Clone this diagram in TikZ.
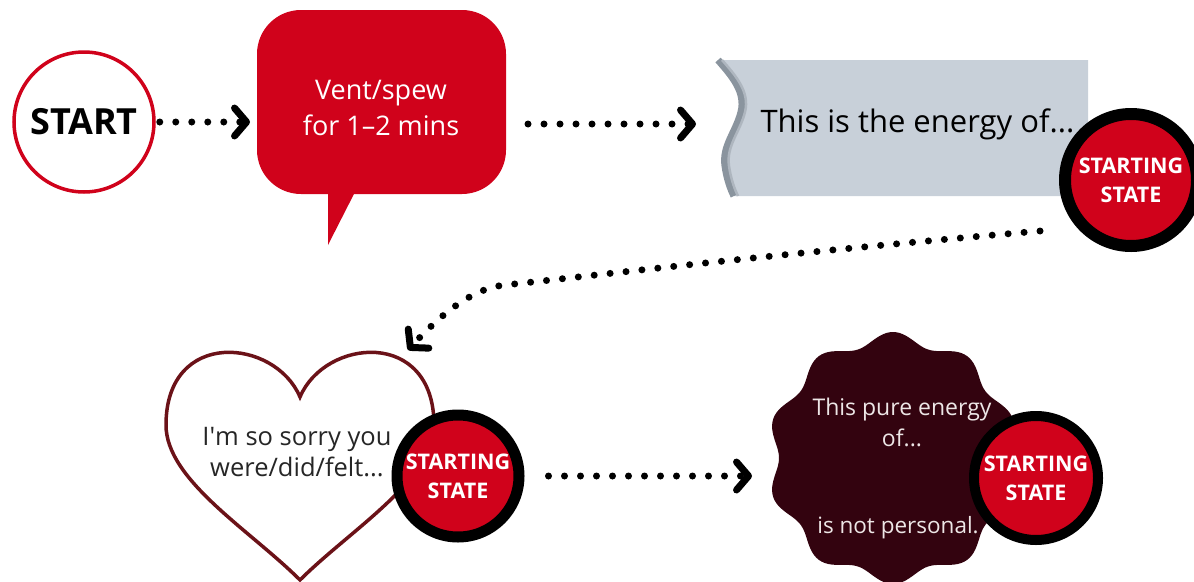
\documentclass[tikz,border=0pt]{standalone}
\usepackage{fontspec}
\setmainfont{Open Sans}
\usepackage{xcolor}
\usetikzlibrary{positioning,arrows.meta,calc}
\definecolor{bred}{HTML}{D0021B}
\definecolor{heartred}{HTML}{6B1218}
\definecolor{blobred}{HTML}{33030F}
\definecolor{bannergray}{HTML}{C8D0D9}
\definecolor{edgegray}{HTML}{8A949E}
\definecolor{edgelight}{HTML}{AEB6BF}
\definecolor{paletext}{HTML}{EDE6E6}

\begin{document}
\begin{tikzpicture}[x=1pt, y=-1pt,
  dotflow/.style={line width=7pt, line cap=round, dash pattern=on 0pt off 16pt,
    -{Straight Barb[length=12pt, width=28pt, line width=7pt, round]}},
  startring/.style={circle, draw=bred, line width=3.5pt, fill=white, minimum size=140pt,
    inner sep=0pt, font=\bfseries\fontsize{36}{40}\selectfont},
  statebadge/.style={circle, fill=bred, draw=black, line width=11pt, minimum size=122pt,
    inner sep=0pt, text=white, align=center, font=\bfseries\fontsize{21.5}{29}\selectfont}]
  \useasboundingbox (0,0) rectangle (1194,581);
  % ---- row 1: start, vent bubble, banner
  \node[startring] (start) at (84,122) {START};
  \fill[bred, rounded corners=44pt] (257,10) rectangle (506,194);
  \fill[bred] (328,190) -- (328,245) -- (356,190) -- cycle;
  \node[text=white, align=center, font=\fontsize{27}{36}\selectfont] (vent) at (381,108)
    {Vent/spew\\for 1–2 mins};
  \coordinate (ventin) at (257,122);
  \coordinate (ventout) at (506,124);
  \coordinate (bannerin) at (718,124);
  \draw[dotflow] ([xshift=4]start.east) -- ([xshift=-7]ventin);
  \draw[dotflow] ([xshift=22]ventout) -- ([xshift=-22]bannerin);
  % banner with a curled left edge
  \fill[bannergray] (718,60) .. controls (732,76) and (746,92) .. (741,112)
    .. controls (736,132) and (722,146) .. (725,166)
    .. controls (727,180) and (731,190) .. (734,196) -- (1088,196) -- (1088,60) -- cycle;
  \draw[edgegray, line width=7pt] (718,60) .. controls (732,76) and (746,92) .. (741,112)
    .. controls (736,132) and (722,146) .. (725,166)
    .. controls (727,180) and (731,190) .. (734,196);
  \draw[edgelight, line width=2.5pt, xshift=4] (718,60) .. controls (732,76) and (746,92) .. (741,112)
    .. controls (736,132) and (722,146) .. (725,166)
    .. controls (727,180) and (731,190) .. (734,196);
  \node[anchor=west, font=\fontsize{31}{35}\selectfont] (energy) at (757,124) {This is the energy of...};
  \node[statebadge, minimum size=132pt, line width=12pt] (ss1) at (1131,180) {STARTING\\STATE};
  % ---- long bend down to the heart
  \coordinate (heartin) at (408,350);
  \draw[dotflow] ($(ss1.center)+(-91,51)$) .. controls (760,255) and (600,275) .. (505,285)
    .. controls (475,288) and (445,310) .. (heartin);
  % ---- row 2: heart
  \draw[heartred, line width=3.5pt, fill=white] (300,397) .. controls (275,338) and (166,328) .. (166,425)
    .. controls (166,480) and (250,530) .. (300,580)
    .. controls (350,530) and (434,480) .. (434,425)
    .. controls (434,328) and (325,338) .. (300,397) -- cycle;
  \node[align=center, text=black!85, font=\fontsize{25.5}{31}\selectfont] (sorry) at (297,452)
    {I\textquotesingle m so sorry you\\were/did/felt...};
  \node[statebadge] (ss2) at (458,476) {STARTING\\STATE};
  % ---- row 2: wavy blob
  \coordinate (blob) at (893,458);
  \fill[blobred] plot[domain=0:360, samples=241] ({893+(120-6*cos(10*\x))*cos(\x)}, {458+(120-6*cos(10*\x))*sin(\x)}) -- cycle;
  \draw[dotflow] ([xshift=24]ss2.east) -- ([xshift=-141]ss2.east -| blob);
  \node[align=center, text=paletext, font=\fontsize{23}{31}\selectfont] (pure) at (902,422)
    {This pure energy\\of...};
  \node[text=paletext, font=\fontsize{22.5}{31}\selectfont] (personal) at (898,528) {is not personal.};
  \node[statebadge, minimum size=124pt, line width=10pt] (ss3) at (1036,478) {STARTING\\STATE};
\end{tikzpicture}
\end{document}
